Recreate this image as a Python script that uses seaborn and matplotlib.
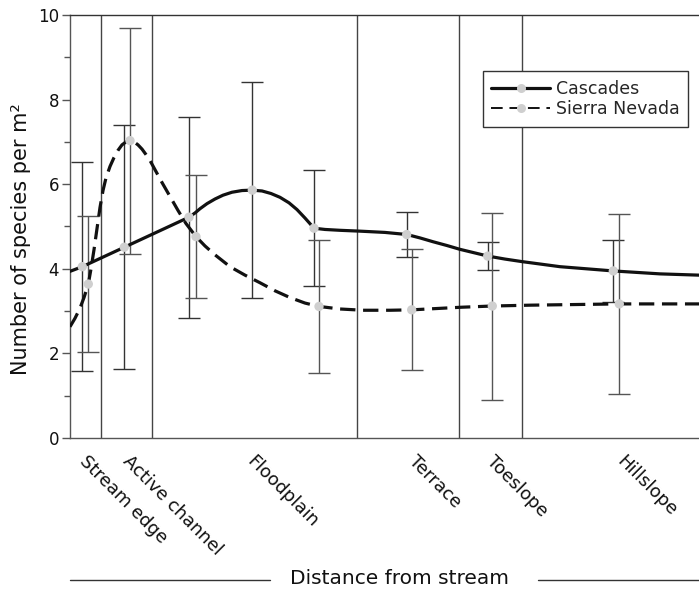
import numpy as np
import pandas as pd
import matplotlib
matplotlib.use('Agg')
import matplotlib.pyplot as plt
from matplotlib.lines import Line2D
import seaborn as sns

# -- Data (x = relative distance from stream, axis spans 0-629) ----
ZONE_BOUNDS = [31, 82, 287, 389, 452]
ZONE_LABELS = ['Stream edge', 'Active channel', 'Floodplain',
               'Terrace', 'Toeslope', 'Hillslope']
ZONE_TICKS  = [19, 62, 186, 348, 426, 556]

# plot means +/- error
casc_x   = [12.3, 54.3, 119, 182.3, 244, 336.7, 417.7, 543.3]
casc_y   = [4.05, 4.51, 5.22, 5.86, 4.96, 4.81, 4.30, 3.95]
casc_err = [2.47, 2.88, 2.38, 2.55, 1.37, 0.54, 0.33, 0.73]

sier_x   = [18.3, 60, 126, 249, 341.7, 422.3, 549.3]
sier_y   = [3.64, 7.03, 4.76, 3.11, 3.03, 3.12, 3.17]
sier_err = [1.60, 2.67, 1.45, 1.57, 1.43, 2.21, 2.13]

# fitted curves
casc_curve_x = [0, 12.3, 54.3, 119, 125, 130, 137, 145, 153, 162, 172, 182,
                192, 201, 210, 219, 227, 235, 244, 255, 270, 290, 315,
                337, 350, 363, 377, 390, 404, 418, 435, 452, 490, 543,
                590, 629]
casc_curve_y = [3.94, 4.05, 4.51, 5.22, 5.32, 5.42, 5.54, 5.65, 5.74, 5.81,
                5.85, 5.86, 5.84, 5.78, 5.69, 5.56, 5.40, 5.20, 4.96,
                4.93, 4.91, 4.89, 4.86, 4.81, 4.73, 4.64, 4.55, 4.46,
                4.38, 4.30, 4.23, 4.17, 4.05, 3.95, 3.88, 3.85]

sier_curve_x = [0, 5, 10, 14, 18.3, 21, 24, 27, 30, 33, 36, 40, 44, 48, 52,
                56, 60, 64, 68, 72, 76, 80, 86, 92, 100, 108, 116, 126,
                135, 145, 160, 175, 190, 205, 220, 235, 249, 270, 293,
                320, 342, 390, 422, 460, 549, 629]
sier_curve_y = [2.63, 2.83, 3.07, 3.32, 3.64, 4.00, 4.45, 4.95, 5.45, 5.85,
                6.15, 6.42, 6.63, 6.80, 6.93, 7.00, 7.03, 7.00, 6.93,
                6.83, 6.70, 6.56, 6.30, 6.04, 5.71, 5.38, 5.07, 4.76,
                4.54, 4.33, 4.05, 3.85, 3.67, 3.48, 3.32, 3.19, 3.11,
                3.05, 3.02, 3.02, 3.03, 3.09, 3.12, 3.14, 3.17, 3.17]

# -- Style ---------------------------------------------------
sns.set_style('ticks')
plt.rcParams['font.family'] = ['DejaVu Sans']
TXT = '#111111'
DOT = '#cfcfcf'

fig = plt.figure(figsize=(6.99, 5.90), dpi=100)
ax = fig.add_axes([70 / 699, 152 / 590, 629 / 699, 423 / 590])

# zone separators
for xb in ZONE_BOUNDS:
    ax.axvline(xb, color='#444444', lw=1.0, zorder=1)

# error bars
ax.errorbar(casc_x, casc_y, yerr=casc_err, fmt='none', ecolor='#333333',
            elinewidth=1.0, capsize=8, capthick=1.0, zorder=2)
ax.errorbar(sier_x, sier_y, yerr=sier_err, fmt='none', ecolor='#555555',
            elinewidth=1.0, capsize=8, capthick=1.0, zorder=2)

# curves
sns.lineplot(x=casc_curve_x, y=casc_curve_y, sort=False, color='#111111',
             lw=2.3, ax=ax, zorder=3)
sns.lineplot(x=sier_curve_x, y=sier_curve_y, sort=False, color='#111111',
             lw=2.3, ax=ax, zorder=3)
ax.lines[-1].set_dashes((4.8, 2.4))
for ln in ax.lines[-2:]:
    ln.set_solid_joinstyle('round')
    ln.set_dash_joinstyle('round')

# points
sns.scatterplot(x=casc_x, y=casc_y, color=DOT, s=45, edgecolor='none',
                ax=ax, zorder=4)
sns.scatterplot(x=sier_x, y=sier_y, color=DOT, s=45, edgecolor='none',
                ax=ax, zorder=4)

# -- Axes ----------------------------------------------------
ax.set_xlim(0, 629)
ax.set_ylim(0, 10)
ax.set_yticks([0, 2, 4, 6, 8, 10])
ax.set_yticks([1, 3, 5, 7, 9], minor=True)
ax.tick_params(axis='y', which='major', length=6, width=1, color='#555555',
               labelsize=12, labelcolor=TXT, pad=2)
ax.tick_params(axis='y', which='minor', length=4, width=1, color='#555555')
ax.set_xticks(ZONE_TICKS)
ax.set_xticklabels(ZONE_LABELS, rotation=-45, ha='left', va='top',
                   rotation_mode='anchor', fontsize=13, color=TXT)
ax.tick_params(axis='x', length=0, pad=10)

for side in ['left', 'bottom']:
    ax.spines[side].set_color('#555555')
    ax.spines[side].set_linewidth(1.0)
ax.spines['top'].set_color('#333333')
ax.spines['top'].set_linewidth(1.0)
ax.spines['right'].set_visible(False)

ax.set_ylabel('Number of species per m²', fontsize=15, color=TXT)
ax.yaxis.set_label_coords(-0.062, 0.47)

# x label with rules on either side
fig.text(399 / 699, 6 / 590, 'Distance from stream', ha='center',
         va='baseline', fontsize=14.5, color=TXT)
fig.add_artist(Line2D([70 / 699, 270 / 699], [10 / 590, 10 / 590],
                      color='#333333', lw=1.0))
fig.add_artist(Line2D([538 / 699, 1.0], [10 / 590, 10 / 590],
                      color='#333333', lw=1.0))

# legend
handles = [
    Line2D([], [], color='#111111', lw=2.3, marker='o', markersize=6.5,
           markerfacecolor=DOT, markeredgecolor='none'),
    Line2D([], [], color='#111111', lw=1.4, ls=(0, (6, 3.5)), marker='o',
           markersize=6.5, markerfacecolor=DOT, markeredgecolor='none'),
]
leg = ax.legend(handles, ['Cascades', 'Sierra Nevada'], loc='upper right',
                bbox_to_anchor=(0.9825, 0.8676), borderaxespad=0,
                fontsize=12.5, handlelength=3.4, handletextpad=0.3,
                frameon=True, fancybox=False, framealpha=1,
                edgecolor='#333333', borderpad=0.5, labelspacing=0.15)
leg.get_frame().set_linewidth(1.0)
leg.set_zorder(5)

fig.savefig('out.png', dpi=100)
